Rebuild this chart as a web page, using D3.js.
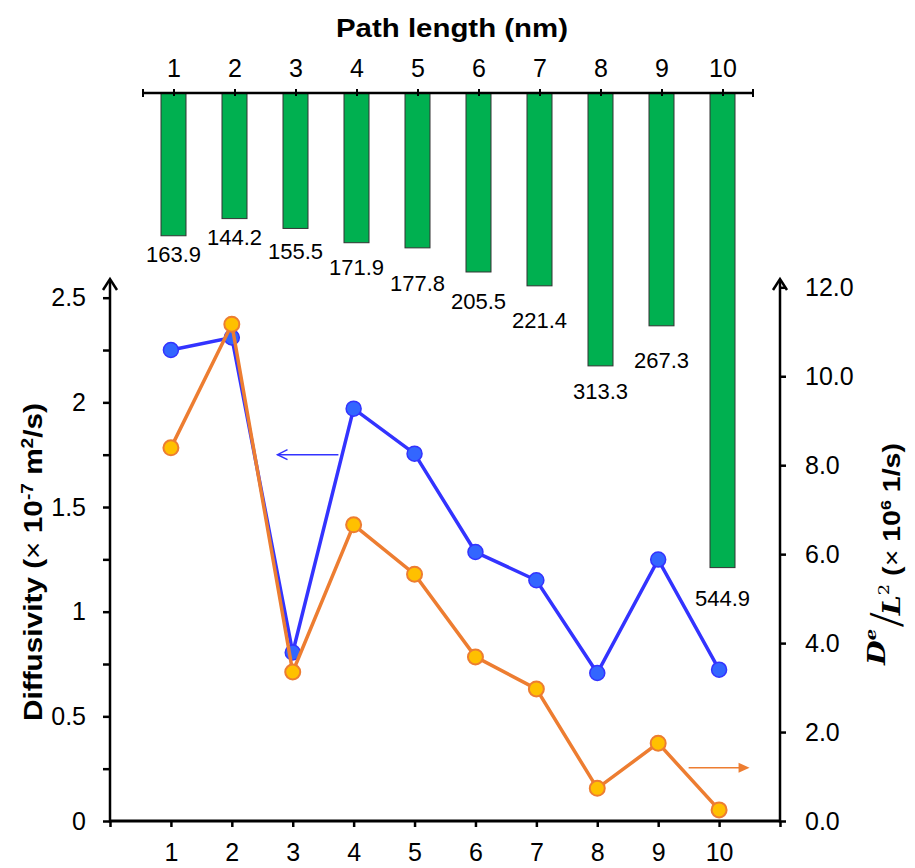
<!DOCTYPE html>
<html>
<head>
<meta charset="utf-8">
<script src="https://cdn.jsdelivr.net/npm/d3@7"></script>
<style>
  body { margin: 0; background: #fff; }
  text { font-family: Arial, "Liberation Sans", sans-serif; fill: #000; }
</style>
</head>
<body>
<script>
// data
var pathLength = [1, 2, 3, 4, 5, 6, 7, 8, 9, 10];
var barValues = [163.9, 144.2, 155.5, 171.9, 177.8, 205.5, 221.4, 313.3, 267.3, 544.9];
var diffusivity = [2.25, 2.31, 0.805, 1.97, 1.755, 1.285, 1.15, 0.707, 1.249, 0.723];
var deOverL2 = [8.39, 11.17, 3.35, 6.66, 5.55, 3.69, 2.97, 0.735, 1.75, 0.25];
var leftTicks = [0, 0.5, 1, 1.5, 2, 2.5];
var rightTicks = [0, 2, 4, 6, 8, 10, 12];

// layout only: how far each bar label sits under its bar
var labelGap = [26, 26, 31, 32, 43, 37, 42, 33, 42, 38];

var width = 915, height = 868;
var blue = "#3333ff", blueFill = "#3366ff";
var orange = "#ed7d31", orangeFill = "#ffc000";
var green = "#00b050";
var tickFont = "25px";

var svg = d3.select("body").append("svg")
    .attr("width", width)
    .attr("height", height);

// ---------- top bar chart ----------
var topY = 93;
var xTop = d3.scaleLinear().domain([0.5, 10.5]).range([143, 753]);
var yBar = d3.scaleLinear().domain([0, 600]).range([topY, topY + 600 * 0.871]);

svg.selectAll("rect.bar")
    .data(barValues)
    .enter()
    .append("rect")
    .attr("class", "bar")
    .attr("x", function(d, i) { return xTop(pathLength[i]) - 12.5; })
    .attr("y", yBar(0))
    .attr("width", 25)
    .attr("height", function(d) { return yBar(d) - yBar(0); })
    .style("fill", green)
    .style("stroke", "#333")
    .style("stroke-width", 1);

svg.selectAll("text.barlabel")
    .data(barValues)
    .enter()
    .append("text")
    .attr("class", "barlabel")
    .attr("x", function(d, i) { return xTop(pathLength[i]); })
    .attr("y", function(d, i) { return yBar(d) + labelGap[i]; })
    .attr("text-anchor", "middle")
    .style("font-size", "22px")
    .text(function(d) { return d3.format(".1f")(d); });

var topAxis = svg.append("g")
    .attr("transform", "translate(0," + topY + ")")
    .call(d3.axisTop(xTop).tickValues(pathLength).tickSizeInner(4).tickSizeOuter(0).tickPadding(12));
topAxis.select(".domain").remove();
topAxis.selectAll(".tick line").attr("y1", 3).style("stroke-width", 2);
topAxis.selectAll(".tick text").style("font-size", tickFont).style("font-family", "Arial, 'Liberation Sans', sans-serif");
topAxis.append("line")
    .attr("x1", xTop.range()[0]).attr("x2", xTop.range()[1])
    .attr("stroke", "#000").attr("stroke-width", 2.5);
topAxis.selectAll("line.cap")
    .data(xTop.range())
    .enter()
    .append("line")
    .attr("class", "cap")
    .attr("x1", function(d) { return d; }).attr("x2", function(d) { return d; })
    .attr("y1", -4).attr("y2", 4)
    .attr("stroke", "#000").attr("stroke-width", 2);

svg.append("text")
    .attr("x", 452)
    .attr("y", 37)
    .attr("text-anchor", "middle")
    .attr("textLength", 232)
    .attr("lengthAdjust", "spacingAndGlyphs")
    .style("font-size", "26px")
    .style("font-weight", "bold")
    .text("Path length (nm)");

// ---------- bottom line chart ----------
var bottomY = 821;
var x = d3.scaleLinear().domain([0, 11]).range([110, 780]);
var yL = d3.scaleLinear().domain([0, 2.5]).range([bottomY, 297.7]);
var yR = d3.scaleLinear().domain([0, 12]).range([bottomY, 287.3]);

var xAxis = svg.append("g")
    .attr("transform", "translate(0," + bottomY + ")")
    .call(d3.axisBottom(x).tickValues(d3.range(0, 12)).tickSize(6).tickPadding(16)
        .tickFormat(function(d) { return (d >= 1 && d <= 10) ? d : ""; }));

var leftAxis = svg.append("g")
    .attr("transform", "translate(110,0)")
    .call(d3.axisLeft(yL).tickValues(d3.range(11).map(function(i) { return i * 0.25; }))
        .tickSize(7).tickPadding(17)
        .tickFormat(function(d) { return leftTicks.indexOf(d) >= 0 ? d : ""; }));

var rightAxis = svg.append("g")
    .attr("transform", "translate(780,0)")
    .call(d3.axisRight(yR).tickValues(rightTicks).tickSize(6).tickPadding(19)
        .tickFormat(d3.format(".1f")));

[xAxis, leftAxis, rightAxis].forEach(function(a) {
    a.select(".domain").remove();
    a.selectAll(".tick line").style("stroke-width", 2.5);
    a.selectAll(".tick text").style("font-size", tickFont).style("font-family", "Arial, 'Liberation Sans', sans-serif");
});

// axis lines with arrow heads
svg.append("line")
    .attr("x1", 110).attr("x2", 780).attr("y1", bottomY).attr("y2", bottomY)
    .attr("stroke", "#000").attr("stroke-width", 3);
[110, 780].forEach(function(ax) {
    svg.append("line")
        .attr("x1", ax).attr("x2", ax).attr("y1", bottomY + 1.5).attr("y2", 280)
        .attr("stroke", "#000").attr("stroke-width", 2.5);
    svg.append("path")
        .attr("d", "M" + (ax - 7) + "," + 290 + "L" + ax + "," + 279 + "L" + (ax + 7) + "," + 290)
        .attr("fill", "none").attr("stroke", "#000").attr("stroke-width", 2.5);
});

// indicator arrows
var by = yL(1.75);
svg.append("line")
    .attr("x1", x(3.75)).attr("x2", x(2.75)).attr("y1", by).attr("y2", by)
    .attr("stroke", blue).attr("stroke-width", 1.5);
svg.append("path")
    .attr("d", "M" + (x(2.75) + 10) + "," + (by - 5) + "L" + x(2.75) + "," + by + "L" + (x(2.75) + 10) + "," + (by + 5))
    .attr("fill", "none").attr("stroke", blue).attr("stroke-width", 1.5);

var oy = yR(1.2);
svg.append("line")
    .attr("x1", x(9.5)).attr("x2", x(10.5) - 8).attr("y1", oy).attr("y2", oy)
    .attr("stroke", orange).attr("stroke-width", 1.5);
svg.append("path")
    .attr("d", "M" + (x(10.5) - 11) + "," + (oy - 5) + "L" + x(10.5) + "," + oy + "L" + (x(10.5) - 11) + "," + (oy + 5) + "Z")
    .attr("fill", orange);

// series
var blueLine = d3.line()
    .x(function(d, i) { return x(pathLength[i]); })
    .y(function(d) { return yL(d); });
var orangeLine = d3.line()
    .x(function(d, i) { return x(pathLength[i]); })
    .y(function(d) { return yR(d); });

svg.append("path")
    .datum(diffusivity)
    .attr("d", blueLine)
    .attr("fill", "none").attr("stroke", blue).attr("stroke-width", 3.5);
svg.selectAll("circle.blue")
    .data(diffusivity)
    .enter()
    .append("circle")
    .attr("class", "blue")
    .attr("cx", function(d, i) { return x(pathLength[i]); })
    .attr("cy", function(d) { return yL(d); })
    .attr("r", 7.5)
    .style("fill", blueFill).style("stroke", blue).style("stroke-width", 1.5);

svg.append("path")
    .datum(deOverL2)
    .attr("d", orangeLine)
    .attr("fill", "none").attr("stroke", orange).attr("stroke-width", 3.5);
svg.selectAll("circle.orange")
    .data(deOverL2)
    .enter()
    .append("circle")
    .attr("class", "orange")
    .attr("cx", function(d, i) { return x(pathLength[i]); })
    .attr("cy", function(d) { return yR(d); })
    .attr("r", 7.5)
    .style("fill", orangeFill).style("stroke", orange).style("stroke-width", 2);

// axis titles
var lt = svg.append("text")
    .attr("transform", "translate(42,562) rotate(-90)")
    .attr("text-anchor", "middle")
    .attr("textLength", 318)
    .attr("lengthAdjust", "spacingAndGlyphs")
    .style("font-size", "25px")
    .style("font-weight", "bold");
lt.append("tspan").text("Diffusivity (");
lt.append("tspan").style("font-weight", "normal").text("×");
lt.append("tspan").text(" 10");
lt.append("tspan").attr("dy", -9).style("font-size", "16px").text("-7");
lt.append("tspan").attr("dy", 9).text(" m");
lt.append("tspan").attr("dy", -9).style("font-size", "16px").text("2");
lt.append("tspan").attr("dy", 9).text("/s)");

var serif = "'DejaVu Serif', 'Liberation Serif', serif";
var rt = svg.append("text")
    .attr("transform", "translate(900,554) rotate(-90)")
    .attr("text-anchor", "middle")
    .attr("textLength", 222)
    .attr("lengthAdjust", "spacingAndGlyphs")
    .style("font-size", "24px")
    .style("font-weight", "bold");
rt.append("tspan").attr("dy", -15).style("font-family", serif).style("font-style", "italic").style("font-size", "24px").text("D");
rt.append("tspan").attr("dy", -9).style("font-family", serif).style("font-style", "italic").style("font-size", "15px").text("e");
rt.append("tspan").attr("dy", 24).attr("dx", 1).style("font-weight", "normal").style("font-size", "40px").style("font-family", "'DejaVu Sans', sans-serif").style("font-weight", "200").text("/");
rt.append("tspan").attr("dy", 0).attr("dx", -3).style("font-family", serif).style("font-style", "italic").style("font-size", "24px").text("L");
rt.append("tspan").attr("dy", -11).style("font-family", serif).style("font-size", "15px").style("font-weight", "normal").text("2");
rt.append("tspan").attr("dy", 11).text(" (");
rt.append("tspan").style("font-weight", "normal").text("×");
rt.append("tspan").text(" 10");
rt.append("tspan").attr("dy", -9).style("font-size", "15px").text("6");
rt.append("tspan").attr("dy", 9).text(" 1/s)");
</script>
</body>
</html>
